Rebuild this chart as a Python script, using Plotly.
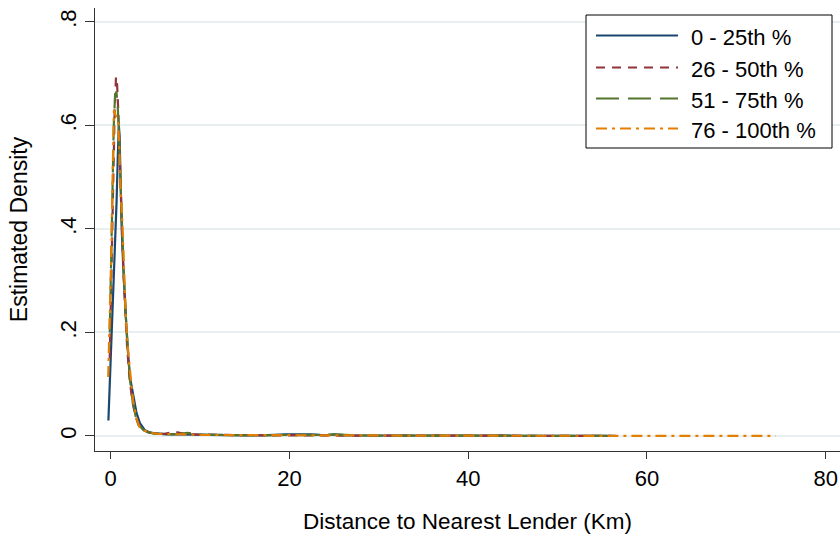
import plotly.graph_objects as go

# ---- data ----
series_names = ["0 - 25th %", "26 - 50th %", "51 - 75th %", "76 - 100th %"]

x_q1 = [-0.25, -0.1, 0.1, 0.3, 0.48, 0.67, 0.8, 0.92, 1.0, 1.12, 1.23, 1.41, 1.6, 1.86, 2.16, 2.53, 2.9, 3.28,
        3.84, 4.5, 5.3, 6.2, 7.5, 9, 11, 13, 15, 17, 19.5, 21, 22.5, 24, 25, 26.5, 29, 32, 35, 38, 42, 46, 50, 53, 56.5]
y_q1 = [0.03, 0.095, 0.21, 0.29, 0.366, 0.456, 0.54, 0.6, 0.58, 0.469, 0.404, 0.327, 0.256, 0.179, 0.114, 0.075,
        0.044, 0.025, 0.011, 0.006, 0.004, 0.003, 0.003, 0.002, 0.002, 0.0015, 0.0015, 0.001, 0.003, 0.003, 0.003,
        0.001, 0.003, 0.001, 0.0008, 0.001, 0.0008, 0.0006, 0.0006, 0.0005, 0.0005, 0.0004, 0.0004]

x_q2 = [-0.1, 0.05, 0.2, 0.3, 0.45, 0.6, 0.72, 0.85, 1.0, 1.15, 1.3, 1.45, 1.65, 1.85, 2.1, 2.4, 2.75, 3.1, 3.6,
        4.2, 5.0, 6.0, 7.2, 8.2, 9.5, 11, 13, 15, 18, 21, 24, 27, 31, 35, 40, 45, 50, 53, 56]
y_q2 = [0.15, 0.28, 0.45, 0.533, 0.63, 0.694, 0.68, 0.63, 0.55, 0.46, 0.38, 0.31, 0.24, 0.17, 0.115, 0.07, 0.04,
        0.022, 0.012, 0.007, 0.005, 0.004, 0.008, 0.004, 0.003, 0.002, 0.002, 0.0015, 0.001, 0.0015, 0.001, 0.0008,
        0.0008, 0.0006, 0.0006, 0.0005, 0.0004, 0.0004, 0.0003]

x_q3 = [-0.1, 0.05, 0.2, 0.35, 0.5, 0.65, 0.78, 0.9, 1.05, 1.2, 1.35, 1.5, 1.7, 1.9, 2.15, 2.45, 2.8, 3.2, 3.7,
        4.3, 5.0, 5.9, 6.8, 7.8, 8.6, 9.8, 11, 13, 15, 17, 20, 22, 25, 28, 32, 36, 40, 45, 50, 54, 56.5]
y_q3 = [0.2, 0.33, 0.5, 0.6, 0.66, 0.665, 0.64, 0.6, 0.52, 0.44, 0.37, 0.3, 0.23, 0.165, 0.11, 0.068, 0.038,
        0.02, 0.011, 0.007, 0.004, 0.006, 0.003, 0.004, 0.006, 0.003, 0.002, 0.002, 0.0015, 0.001, 0.002, 0.0015,
        0.003, 0.001, 0.0008, 0.0007, 0.0006, 0.0005, 0.0004, 0.0004, 0.0003]

x_q4 = [-0.27, -0.08, 0.1, 0.22, 0.37, 0.55, 0.7, 0.85, 0.96, 1.12, 1.3, 1.41, 1.6, 1.71, 1.97, 2.24, 2.5, 2.9,
        3.28, 3.8, 4.5, 5.3, 6.2, 7.2, 8.5, 10, 12, 14, 17, 20, 24, 28, 33, 38, 44, 50, 56, 62, 68, 74.4]
y_q4 = [0.114, 0.224, 0.372, 0.5, 0.63, 0.62, 0.61, 0.605, 0.56, 0.47, 0.417, 0.365, 0.275, 0.224, 0.16, 0.114,
        0.07, 0.034, 0.015, 0.01, 0.006, 0.004, 0.004, 0.003, 0.003, 0.002, 0.002, 0.0015, 0.0015, 0.001, 0.001,
        0.0008, 0.0007, 0.0006, 0.0005, 0.0004, 0.0004, 0.0003, 0.0003, 0.0002]

x_ticks = [0, 20, 40, 60, 80]
y_ticks = [0, 0.2, 0.4, 0.6, 0.8]
y_tick_labels = ["0", ".2", ".4", ".6", ".8"]

# ---- styles ----
colors = ["#1a476f", "#90353b", "#55752f", "#e37e00"]
dashes = ["solid", "9px,7px", "23px,9px", "11px,5px,3px,5px"]
FONT = "Liberation Sans, Arial, sans-serif"

W, H = 840, 534
L, R, T, B = 95, 0, 8, 83

fig = go.Figure()
series = [(x_q1, y_q1), (x_q2, y_q2), (x_q3, y_q3), (x_q4, y_q4)]
for (xs, ys), name, c, d in zip(series, series_names, colors, dashes):
    fig.add_trace(go.Scatter(x=xs, y=ys, mode="lines", name=name,
                             line=dict(color=c, width=2.2, dash=d), showlegend=False))

# manual legend (Stata-style box) in paper coordinates
pw, ph = W - L - R, H - T - B
def px(x):
    return (x - L) / pw
def py(y):
    return (H - B - y) / ph

shapes = [dict(type="rect", xref="paper", yref="paper", x0=px(586), x1=px(832), y0=py(148), y1=py(15),
               line=dict(color="#000000", width=1), fillcolor="white", layer="above")]
annotations = []
rows = [35.5, 67.5, 98.5, 128.5]
for name, c, d, yy in zip(series_names, colors, dashes, rows):
    shapes.append(dict(type="line", xref="paper", yref="paper", x0=px(596), x1=px(678), y0=py(yy), y1=py(yy),
                       line=dict(color=c, width=2, dash=d), layer="above"))
    annotations.append(dict(xref="paper", yref="paper", x=px(689), y=py(yy + 2), text=name, showarrow=False,
                            xanchor="left", yanchor="middle", font=dict(family=FONT, size=22, color="#000000")))

fig.update_layout(
    width=W, height=H,
    margin=dict(l=L, r=R, t=T, b=B, pad=0),
    paper_bgcolor="white", plot_bgcolor="white",
    font=dict(family=FONT, size=22, color="#000000"),
    shapes=shapes, annotations=annotations,
    showlegend=False,
)
fig.update_xaxes(
    range=[-1.75, 81.6], tickvals=x_ticks, ticktext=[str(v) for v in x_ticks],
    showline=True, linecolor="#333333", linewidth=1.2, mirror=False,
    ticks="outside", ticklen=7, tickcolor="#333333", tickwidth=1.2,
    showgrid=False, zeroline=False,
    tickfont=dict(family=FONT, size=22, color="#000000"),
    title=dict(text="Distance to Nearest Lender (Km)", font=dict(family=FONT, size=22.5, color="#000000"), standoff=23),
)
fig.update_yaxes(
    range=[-0.029, 0.827], tickvals=y_ticks, ticktext=y_tick_labels, tickangle=-90,
    showline=True, linecolor="#333333", linewidth=1.2,
    ticks="outside", ticklen=9, tickcolor="#333333", tickwidth=1.2,
    showgrid=True, gridcolor="#e7eff1", gridwidth=1.5, zeroline=False,
    tickfont=dict(family=FONT, size=22, color="#000000"),
    title=dict(text="Estimated Density", font=dict(family=FONT, size=23, color="#000000"), standoff=22),
)

fig.write_html("out.html")
